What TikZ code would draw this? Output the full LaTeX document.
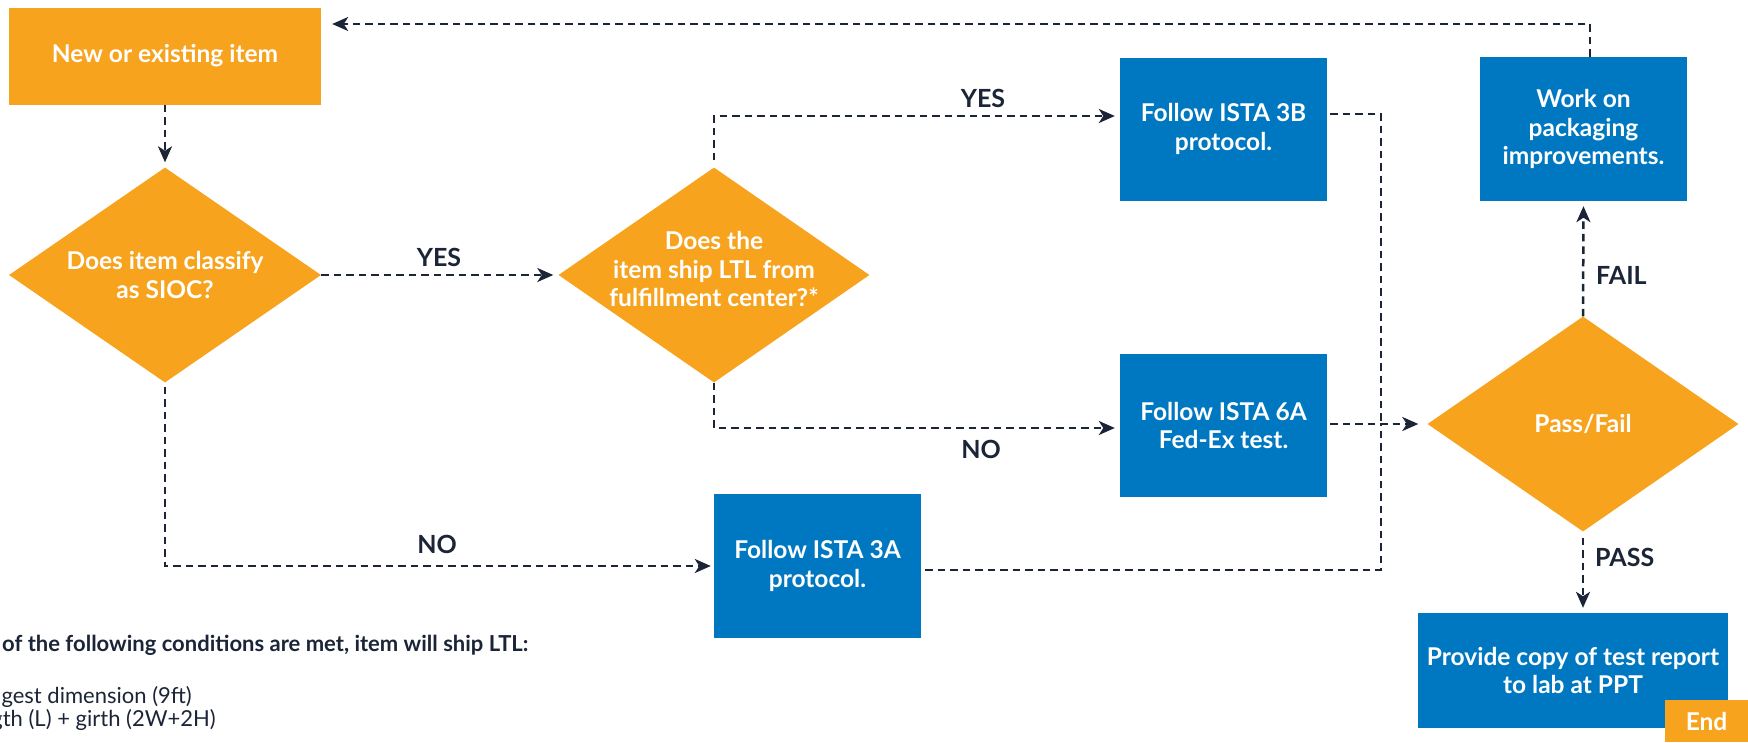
\documentclass[tikz,border=0pt]{standalone}
\usepackage{fontspec}
\setmainfont{Lato}
\usetikzlibrary{shapes.geometric,arrows.meta}
\definecolor{orng}{RGB}{247,163,30}
\definecolor{blu}{RGB}{0,120,193}
\definecolor{navy}{RGB}{27,37,55}
\begin{document}
\begin{tikzpicture}[x=1pt,y=-1pt,
  boxfont/.style={font=\bfseries\fontsize{24.5}{28.5}\selectfont},
  orbox/.style={rectangle, fill=orng, text=white, boxfont, align=center, inner sep=0pt},
  blbox/.style={rectangle, fill=blu, text=white, boxfont, align=center, inner sep=0pt},
  dia/.style={diamond, fill=orng, inner sep=0pt},
  dtext/.style={text=white, boxfont, align=center},
  flow/.style={draw=navy, line width=2.5pt, dash pattern=on 7.5pt off 5pt},
  arr/.style={flow, -{Stealth[length=16pt,width=14pt,inset=4.5pt]}},
  lbl/.style={text=navy, font=\bfseries\fontsize{25}{30}\selectfont, inner sep=0pt},
  note/.style={text=navy, inner sep=0pt}
]
\clip (0,0) rectangle (1748,742);
\fill[white] (0,0) rectangle (1748,742);

% nodes
\node[orbox, minimum width=312pt, minimum height=97pt] (start) at (165,56) {New or existing item};
\node[dia, minimum width=312pt, minimum height=215pt,
      label={[dtext]center:Does item classify\\as SIOC?}] (d1) at (165,275) {};
\node[dia, minimum width=311pt, minimum height=215pt,
      label={[dtext,yshift=6pt]center:Does the\\item ship LTL from\\fulfillment center?*}] (d2) at (714,275) {};
\node[blbox, minimum width=207pt, minimum height=143pt] (b3b) at (1223.5,129) {Follow ISTA 3B\\protocol.};
\node[blbox, minimum width=207pt, minimum height=143pt] (b6a) at (1223.5,425.5) {Follow ISTA 6A\\Fed-Ex test.};
\node[blbox, minimum width=207pt, minimum height=144pt] (b3a) at (817.5,566) {Follow ISTA 3A\\protocol.};
\node[dia, minimum width=311pt, minimum height=215pt,
      label={[dtext]center:Pass/Fail}] (pf) at (1583,424) {};
\node[blbox, minimum width=207pt, minimum height=144pt] (work) at (1583.5,129) {Work on\\packaging\\improvements.};
\node[blbox, minimum width=310pt, minimum height=115pt] (prov) at (1573,670.5) {Provide copy of test report\\to lab at PPT};
\node[orbox, minimum width=83pt, minimum height=42pt] (end) at (1706.5,721) {End};

\coordinate (junc) at (1381,424);

% connectors
\draw[arr, shorten >=5pt] (start.south) -- (d1.north);
\draw[arr, shorten >=5pt] (d1.east) -- (d2.west);
\draw[arr, shorten <=7pt, shorten >=5pt] (d2.north) |- ([yshift=13pt]b3b.west);
\draw[arr, shorten >=5pt] (d2.south) |- ([yshift=-2.5pt]b6a.west);
\draw[arr, shorten <=4pt, shorten >=3pt] (d1.south) |- (b3a.west);
\draw[flow, shorten <=3pt] ([yshift=15pt]b3b.east) -| (junc);
\draw[flow, shorten <=4pt] ([yshift=-4pt]b3a.east) -| (junc);
\draw[arr, shorten <=3pt, shorten >=9pt] ([yshift=1.5pt]b6a.east) -- (pf.west);
\draw[arr, shorten >=5pt] (pf.north) -- (work.south);
\draw[arr, shorten <=6pt, shorten >=5pt] (pf.south) -- (pf.south |- prov.north);
\draw[arr, shorten >=11pt] ([xshift=6.5pt]work.north) |- ([yshift=32pt]start.east);

% connector labels
\node[lbl] (lyes1) at (439,257) {YES};
\node[lbl] (lyes2) at (983,98) {YES};
\node[lbl] (lno1) at (981,449) {NO};
\node[lbl] (lno2) at (437,544) {NO};
\node[lbl, anchor=west] (lfail) at (1596,275) {FAIL};
\node[lbl, anchor=west] (lpass) at (1595,557) {PASS};

% footnote
\node[note, anchor=base west, font=\bfseries\fontsize{22}{25}\selectfont] (fn1) at (2,651) {of the following conditions are met, item will ship LTL:};
\node[note, anchor=base east, font=\fontsize{22}{25}\selectfont] (fn2) at (192,703) {gest dimension (9ft)};
\node[note, anchor=base east, font=\fontsize{22}{25}\selectfont] (fn3) at (216,726) {gth (L) + girth (2W+2H)};
\end{tikzpicture}
\end{document}
